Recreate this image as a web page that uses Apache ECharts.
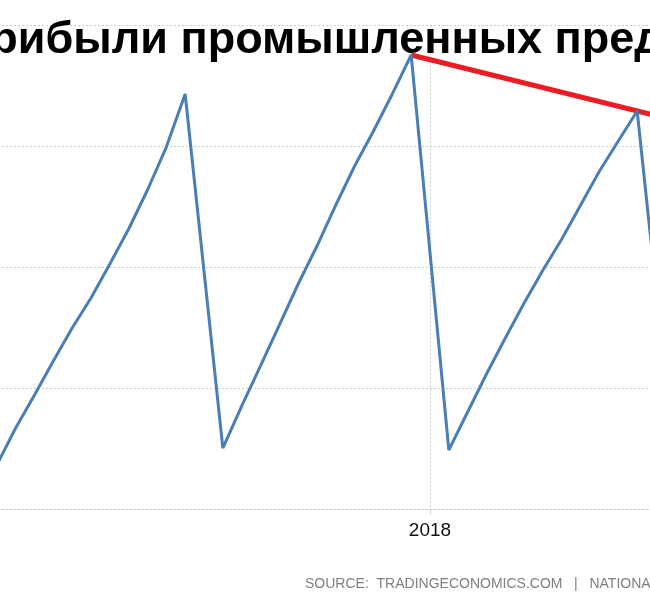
<!DOCTYPE html>
<html>
<head>
<meta charset="utf-8">
<script src="https://cdn.jsdelivr.net/npm/echarts@6/dist/echarts.min.js"></script>
<style>
html,body{margin:0;padding:0;background:#fff;}
#main{width:650px;height:600px;}
</style>
</head>
<body>
<div id="main"></div>
<script>
// Months (YTD cumulative readings) and values
const months = [
  '2016-02','2016-03','2016-04','2016-05','2016-06','2016-07','2016-08','2016-09','2016-10','2016-11','2016-12',
  '2017-02','2017-03','2017-04','2017-05','2017-06','2017-07','2017-08','2017-09','2017-10','2017-11','2017-12',
  '2018-02','2018-03','2018-04','2018-05','2018-06','2018-07','2018-08','2018-09','2018-10','2018-11','2018-12',
  '2019-02'
];
const profits = [
  7270, 13390, 18840, 24460, 29920, 34880, 40500, 46280, 52730, 59830, 68600,
  10080, 17020, 23640, 30410, 37190, 43470, 50250, 56690, 62480, 68600, 75040,
  9750, 16030, 22310, 28260, 34050, 39500, 44630, 50250, 55870, 60830, 65790,
  7110
];
// Red trend line drawn through the December peaks
const trendMonths = ['2017-12', '2019-02'];
const trendValues = [75040, 64250];

const yTicks = [0, 20000, 40000, 60000, 80000];
const titleText = 'Прибыли промышленных предприятий в Китае';
const sourceText = 'SOURCE:  TRADINGECONOMICS.COM   |   NATIONAL BUREAU OF STATISTICS OF CHINA';

// month index relative to January 2018
function mIdx(s) {
  const [y, m] = s.split('-').map(Number);
  return (y - 2018) * 12 + (m - 1);
}
const lineData = months.map((m, i) => [mIdx(m), profits[i]]);
const trendData = trendMonths.map((m, i) => [mIdx(m), trendValues[i]]);

const chart = echarts.init(document.getElementById('main'));
chart.setOption({
  animation: false,
  grid: { left: -22, right: -6, top: 25, bottom: 91, containLabel: false, outerBoundsMode: 'none' },
  xAxis: {
    type: 'value',
    min: -24, max: 12, interval: 24,
    axisLine: { show: true, lineStyle: { color: '#cccccc', type: [2, 2], width: 1 } },
    axisTick: { show: true, length: 5, lineStyle: { color: '#cccccc' } },
    splitLine: { show: true, lineStyle: { color: '#cccccc', type: [2, 2], width: 1 } },
    axisLabel: {
      formatter: v => (v % 24 === 0 ? String(2018 + v / 12) : ''),
      color: '#111111',
      fontFamily: '"Liberation Sans", Arial, sans-serif',
      fontSize: 19,
      margin: 12
    }
  },
  yAxis: {
    type: 'value',
    min: yTicks[0], max: yTicks[yTicks.length - 1], interval: 20000,
    axisLine: { show: false },
    axisTick: { show: false },
    axisLabel: { show: false },
    splitLine: { show: true, lineStyle: { color: '#cccccc', type: [2, 2], width: 1 } }
  },
  series: [
    {
      type: 'line',
      data: trendData,
      symbol: 'none',
      z: 2,
      lineStyle: { color: '#ec1c24', width: 5 }
    },
    {
      type: 'line',
      data: lineData,
      symbol: 'none',
      z: 3,
      lineStyle: { color: '#4a7fb5', width: 3 }
    }
  ],
  graphic: [
    {
      type: 'text',
      left: -42,
      top: 18,
      z: 10,
      style: {
        text: titleText,
        fill: '#000000',
        font: 'bold 45px "Liberation Sans", Arial, sans-serif'
      }
    },
    {
      type: 'text',
      left: 305,
      top: 577,
      z: 10,
      style: {
        text: sourceText,
        fill: '#7f7f7f',
        font: '14px "Liberation Sans", Arial, sans-serif'
      }
    }
  ]
});
</script>
</body>
</html>
